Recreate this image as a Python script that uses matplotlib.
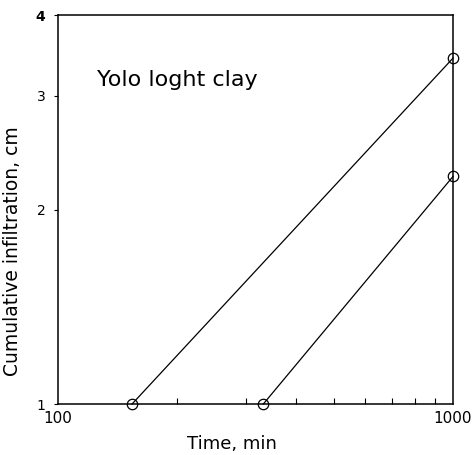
import matplotlib
matplotlib.use("Agg")
import matplotlib.pyplot as plt
from matplotlib.ticker import FixedLocator, NullFormatter, FixedFormatter

time_a = [154, 1000]
infil_a = [1.0, 3.43]
time_b = [331, 1000]
infil_b = [1.0, 2.25]

x_ticks = [100, 1000]
x_labels = ["100", "1000"]
x_minor = [200, 300, 400, 500, 600, 700, 800, 900]
y_ticks = [1, 2, 3, 4]
y_labels = ["1", "2", "3", "4"]

fig = plt.figure(figsize=(4.73, 4.55), dpi=100)
ax = fig.add_axes([58/473, 1-404/455, 395/473, 389/455])
ax.set_xscale("log")
ax.set_yscale("log")
ax.set_xlim(100, 1000)
ax.set_ylim(1, 4)

for t, v in [(time_a, infil_a), (time_b, infil_b)]:
    ax.plot(t, v, color="black", lw=0.9, marker="o", ms=7.5, mfc="none", mec="black", mew=0.9, clip_on=False, zorder=3)

ax.xaxis.set_major_locator(FixedLocator(x_ticks))
ax.xaxis.set_major_formatter(FixedFormatter(x_labels))
ax.xaxis.set_minor_locator(FixedLocator(x_minor))
ax.xaxis.set_minor_formatter(NullFormatter())
ax.yaxis.set_major_locator(FixedLocator(y_ticks))
ax.yaxis.set_major_formatter(FixedFormatter(y_labels))
ax.yaxis.set_minor_locator(FixedLocator([]))

ax.tick_params(axis="x", which="major", length=0, pad=5, labelsize=11)
ax.tick_params(axis="x", which="minor", direction="in", length=4, width=0.8)
ax.tick_params(axis="y", which="major", direction="out", length=3, width=0.8, pad=6, labelsize=10)
ax.get_yticklabels()[-1].set_fontweight("bold")

for s in ax.spines.values():
    s.set_linewidth(1.1)

ax.set_xlabel("Time, min", fontsize=13)
ax.xaxis.set_label_coords(0.44, -0.08)
ax.set_ylabel("Cumulative infiltration, cm", fontsize=13.5)
ax.yaxis.set_label_coords(-0.09, 0.393)
ax.text(0.099, 0.833, "Yolo loght clay", transform=ax.transAxes, fontsize=16, va="center", ha="left")

fig.savefig("out.png", dpi=100)
